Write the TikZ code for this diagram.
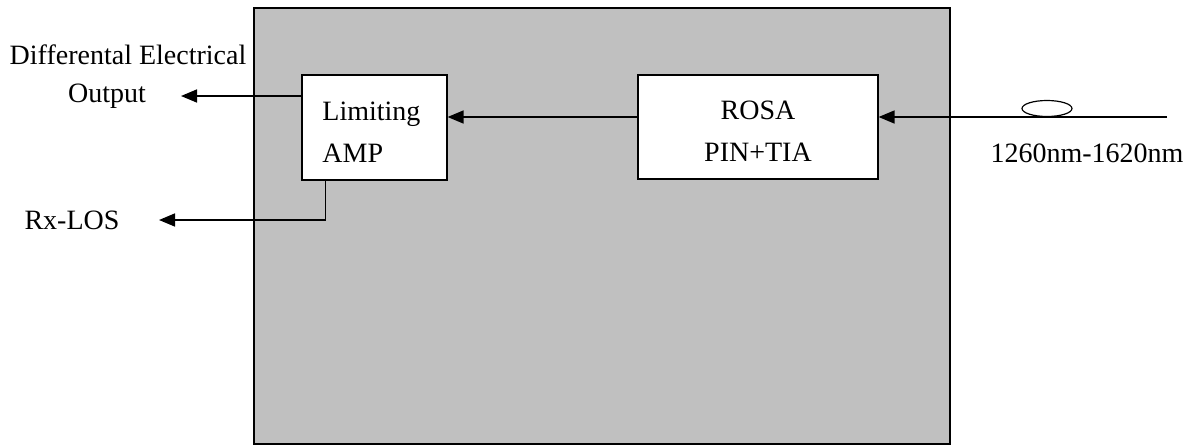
\documentclass[tikz,border=0pt]{standalone}
\usepackage{fontspec}
\setmainfont{Liberation Serif}
\usetikzlibrary{arrows.meta}
\definecolor{boxgray}{RGB}{192,192,192}
\tikzset{
  blockbox/.style={draw,line width=0.6pt,fill=white,inner sep=0pt},
  lbl/.style={inner sep=0pt}
}
\begin{document}
\begin{tikzpicture}[line cap=butt,line join=miter,>={Triangle[length=8pt,width=6.5pt]},x=0.5pt,y=-0.5pt,
    font=\fontsize{14}{21}\selectfont]
				\useasboundingbox (0,0) rectangle (1195,445);
				\draw [line width=0.7pt,fill=boxgray] (254,8) rectangle (950,444);
				% blocks
				\node[blockbox,minimum width=72.5pt,minimum height=52.5pt] (amp) at (374.5,127.5) {};
				\node[blockbox,minimum width=120pt,minimum height=52pt] (rosa) at (758,127) {};
				\node[lbl,align=left,anchor=west] (amptext) at (322,132) {Limiting\\AMP};
				\node[lbl,align=center] (rosatext) at (758,131) {ROSA\\PIN+TIA};
				% fiber
				\coordinate (fiberend) at (1167,117);
				\draw [line width=0.6pt] (1047,108.5) ellipse (12.5pt and 4pt);
				% connectors
				\coordinate (outtip) at (181,96);
				\coordinate (lostip) at (159,220);
				\draw [line width=0.8pt,->] (fiberend) -- (rosa.east |- fiberend);
				\draw [line width=0.8pt,->] (rosa.west |- fiberend) -- (amp.east |- fiberend);
				\draw [line width=0.8pt,->] (amp.west |- outtip) -- (outtip);
				\draw [line width=0.8pt,->] ([xshift=12pt]amp.south west) |- (lostip);
				% labels
				\node[lbl] (difflabel) at (128,55) {Differental Electrical};
				\node[lbl] (outlabel) at (107,96) {Output};
				\node[lbl] (loslabel) at (72,220) {Rx-LOS};
				\node[lbl] (wavelabel) at (1087,153) {1260nm-1620nm};
\end{tikzpicture}
\end{document}
